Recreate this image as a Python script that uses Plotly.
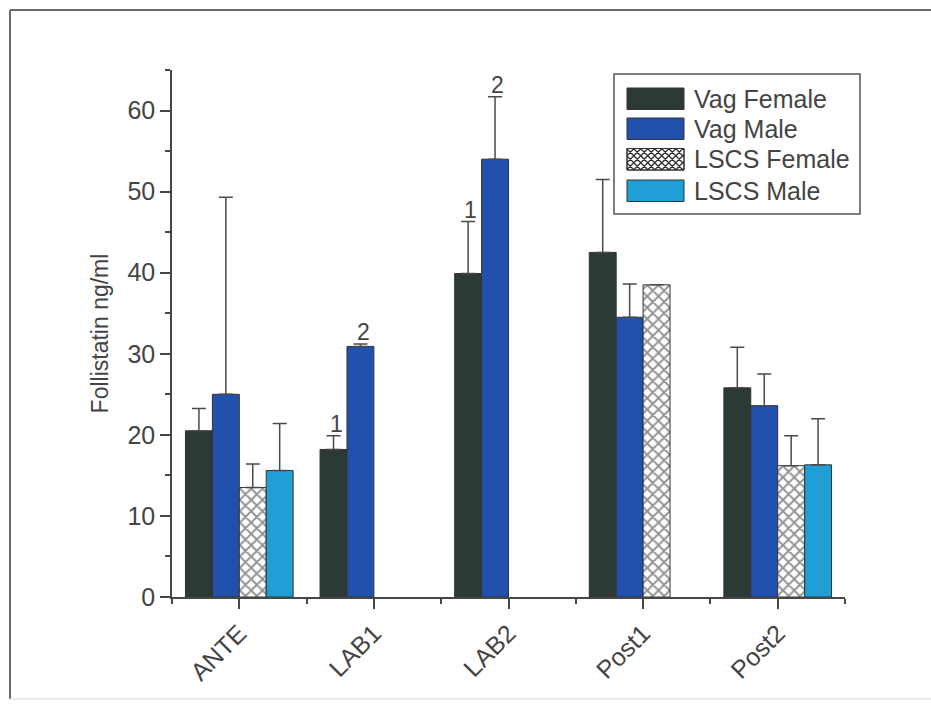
import plotly.graph_objects as go

# Sampling periods and groups
periods = ["ANTE", "LAB1", "LAB2", "Post1", "Post2"]
series_names = ["Vag Female", "Vag Male", "LSCS Female", "LSCS Male"]

# Mean follistatin (ng/ml); None where a group has no data
vag_female = [20.5, 18.2, 39.9, 42.5, 25.8]
vag_male = [25.0, 30.9, 54.0, 34.5, 23.6]
lscs_female = [13.5, None, None, 38.5, 16.2]
lscs_male = [15.6, None, None, None, 16.3]

# Upper error (SD) for each mean
vag_female_err = [2.75, 1.7, 6.4, 9.0, 5.0]
vag_male_err = [24.3, 0.3, 7.7, 4.1, 3.9]
lscs_female_err = [2.9, None, None, 0, 3.7]
lscs_male_err = [5.8, None, None, None, 5.7]

# Significance markers: (period index, series index, label)
sig_marks = [(1, 0, "1"), (1, 1, "2"), (2, 0, "1"), (2, 1, "2")]

values = [vag_female, vag_male, lscs_female, lscs_male]
errors = [vag_female_err, vag_male_err, lscs_female_err, lscs_male_err]
fills = ["#2c3a36", "#2151ad", "#ffffff", "#1f9fd5"]
hatched = [False, False, True, False]

W, H = 931, 704
M_L, M_R, M_T, M_B = 172, 86, 70, 107
PW, PH = W - M_L - M_R, H - M_T - M_B


def px(x):
    """Pixel column -> paper x fraction."""
    return (x - M_L) / PW


def py(y):
    """Pixel row (from top) -> paper y fraction."""
    return (H - M_B - y) / PH


x_idx = list(range(len(periods)))
font_family = "Liberation Sans, Arial, sans-serif"
axis_col = "#474747"
text_col = "#444444"

fig = go.Figure()
for name, vals, errs, col, hat in zip(series_names, values, errors, fills, hatched):
    fig.add_trace(go.Bar(
        x=x_idx, y=vals, name=name, showlegend=False,
        marker=dict(
            color=col,
            line=dict(color="#333333", width=1),
            pattern=dict(shape="x", fgcolor="#262626", bgcolor="#ffffff",
                         size=8, solidity=0.42) if hat else None,
        ),
        error_y=dict(type="data", array=[e if e is not None else 0 for e in errs],
                     arrayminus=[0] * len(errs), symmetric=False,
                     color="#4a4a4a", thickness=1.5, width=7),
    ))

# Offsets of each bar within a group (4 bars, bargap 0.2)
n = len(series_names)
bw = 0.8 / n
offsets = [-0.4 + bw * (i + 0.5) for i in range(n)]

annotations = []
for pi, si, lab in sig_marks:
    top = values[si][pi] + errors[si][pi]
    annotations.append(dict(
        x=pi + offsets[si] + 0.02, y=top, xref="x", yref="y", text=lab,
        showarrow=False, yanchor="bottom", yshift=-3,
        font=dict(size=23, color=text_col, family=font_family),
    ))

shapes = [
    # outer frame
    dict(type="line", xref="paper", yref="paper", x0=px(10), x1=px(W + 5),
         y0=py(10), y1=py(10), line=dict(color="#6a6a6a", width=2)),
    dict(type="line", xref="paper", yref="paper", x0=px(10), x1=px(10),
         y0=py(10), y1=py(699), line=dict(color="#6a6a6a", width=2)),
    dict(type="line", xref="paper", yref="paper", x0=px(10), x1=px(W + 5),
         y0=py(699), y1=py(699), line=dict(color="#d8d8d8", width=1)),
    # legend box
    dict(type="rect", xref="paper", yref="paper", x0=px(614), x1=px(860),
         y0=py(74), y1=py(214), line=dict(color="#555555", width=1.5),
         fillcolor="white", layer="above"),
]

# Legend rows: swatch rectangle + label
row_tops = [88, 118, 148.5, 180]
sw_h = 21.5
sw_x0, sw_x1 = 627, 684
for name, col, hat, top in zip(series_names, fills, hatched, row_tops):
    shapes.append(dict(
        type="rect", xref="paper", yref="paper",
        x0=px(sw_x0), x1=px(sw_x1), y0=py(top), y1=py(top + sw_h),
        fillcolor=col, line=dict(color="#333333", width=1), layer="above"))
    if hat:
        # cross-hatch inside the swatch
        step = 7
        segs = []
        k = sw_x0 - sw_h
        while k < sw_x1:
            # "\" direction
            xa, ya = k, top
            xb, yb = k + sw_h, top + sw_h
            if xa < sw_x0:
                ya += sw_x0 - xa
                xa = sw_x0
            if xb > sw_x1:
                yb -= xb - sw_x1
                xb = sw_x1
            if xb > xa:
                segs.append(f"M{px(xa)},{py(ya)}L{px(xb)},{py(yb)}")
            # "/" direction
            xa, ya = k, top + sw_h
            xb, yb = k + sw_h, top
            if xa < sw_x0:
                ya -= sw_x0 - xa
                xa = sw_x0
            if xb > sw_x1:
                yb += xb - sw_x1
                xb = sw_x1
            if xb > xa:
                segs.append(f"M{px(xa)},{py(ya)}L{px(xb)},{py(yb)}")
            k += step
        shapes.append(dict(type="path", xref="paper", yref="paper",
                           path="".join(segs), line=dict(color="#2a2a2a", width=1.2),
                           layer="above"))
        shapes.append(dict(
            type="rect", xref="paper", yref="paper",
            x0=px(sw_x0), x1=px(sw_x1), y0=py(top), y1=py(top + sw_h),
            line=dict(color="#333333", width=1), layer="above"))
    annotations.append(dict(
        x=px(692), y=py(top + sw_h / 2), xref="paper", yref="paper",
        text=name, showarrow=False, xanchor="left", yanchor="middle",
        font=dict(size=25, color=text_col, family=font_family)))

fig.update_layout(
    width=W, height=H,
    margin=dict(l=M_L, r=M_R, t=M_T, b=M_B),
    paper_bgcolor="white", plot_bgcolor="white",
    barmode="group", bargap=0.2, bargroupgap=0,
    font=dict(family=font_family, size=20, color=text_col),
    showlegend=False,
    annotations=annotations,
    shapes=shapes,
)

fig.update_xaxes(
    range=[-0.5, 4.5], tickvals=x_idx, ticktext=periods, tickangle=-45,
    showgrid=False, zeroline=False,
    showline=True, linecolor=axis_col, linewidth=1.6,
    ticks="outside", ticklen=10, tickwidth=1.6, tickcolor=axis_col,
    minor=dict(dtick=0.5, tick0=-0.5, ticks="outside", ticklen=5,
               tickwidth=1.6, tickcolor=axis_col),
    tickfont=dict(size=25, color=text_col),
)
fig.update_yaxes(
    range=[0, 65], dtick=10, tick0=0,
    showgrid=False, zeroline=False,
    showline=True, linecolor=axis_col, linewidth=1.6,
    ticks="outside", ticklen=10, tickwidth=1.6, tickcolor=axis_col,
    minor=dict(dtick=5, tick0=0, ticks="outside", ticklen=5,
               tickwidth=1.6, tickcolor=axis_col),
    tickfont=dict(size=25, color=text_col),
    title=dict(text="Follistatin ng/ml", font=dict(size=23, color=text_col),
               standoff=12),
)

fig.write_html("out.html")
